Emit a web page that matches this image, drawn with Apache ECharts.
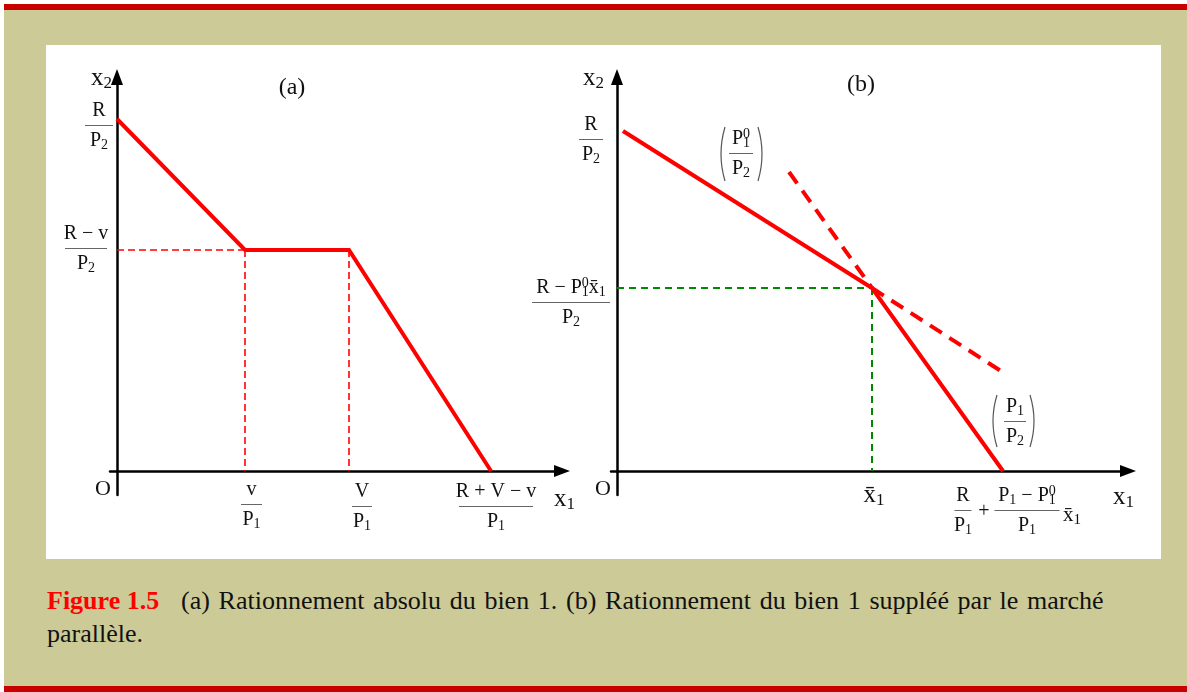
<!DOCTYPE html>
<html>
<head>
<meta charset="utf-8">
<script src="https://cdn.jsdelivr.net/npm/echarts@6/dist/echarts.min.js"></script>
<style>
  html, body { margin: 0; padding: 0; background: #fff; width: 1187px; height: 692px; overflow: hidden; }
  #frame { position: absolute; left: 4px; top: 4px; width: 1183px; height: 676px; background: #CCCA96;
           border-top: 6px solid #C80000; border-bottom: 6px solid #C80000; }
  #panel { position: absolute; left: 46px; top: 45px; width: 1115px; height: 514px; background: #fff; }
  #chart { position: absolute; left: 0; top: 0; width: 1187px; height: 692px; }
  .cap { position: absolute; font-family: "Liberation Serif", "Times New Roman", serif; font-size: 26px;
         line-height: 26px; color: #111; white-space: pre; }
  .wide { word-spacing: 2.2px; }
  .fig { color: #FF0000; font-weight: bold; }
</style>
</head>
<body>
<div id="frame"></div>
<div id="panel"></div>
<div class="cap fig" style="left:47px; top:588px;">Figure 1.5</div>
<div class="cap wide" style="left:181px; top:588px;">(a) Rationnement absolu du bien 1. (b) Rationnement du bien 1 suppléé par le marché</div>
<div class="cap" style="left:47px; top:621px;">parallèle.</div>
<div id="chart"></div>
<script>
const SERIF = '"Liberation Serif", "Times New Roman", serif';

// Panel (a): budget set when good 1 is rationed (corner points)
const budgetAX = [0, 12.8, 23.2, 37.4];
const budgetAY = [35.2, 22.1, 22.1, 0];

// Panel (b): budget line with the parallel market (corner points)
const budgetBX = [0.6, 25.5, 38.6];
const budgetBY = [34.0, 18.3, 0];
// continuations of both price lines past the kink
const steepExtX = [17.2, 25.5];
const steepExtY = [29.9, 18.3];
const flatExtX = [25.5, 38.7];
const flatExtY = [18.3, 9.8];

// Tick labels as [numerator, denominator] (rich markup: t text, s subscript, q stacked superscript)
const ticksAY = [['{t|R}', '{t|P}{s|2}'], ['{t|R − v}', '{t|P}{s|2}']];
const ticksAX = [['{t|v}', '{t|P}{s|1}'], ['{t|V}', '{t|P}{s|1}'], ['{t|R + V − v}', '{t|P}{s|1}']];
const ticksBY = [['{t|R}', '{t|P}{s|2}'], ['{t|R − P}{s|1}{q|0}{t|x\u0304}{s|1}', '{t|P}{s|2}']];
const tickBXbar = '{X|x\u0304}{XS|1}';
const tickBXend = [['{t|R}', '{t|P}{s|1}'], '{t|+}', ['{t|P}{s|1}{t| − P}{s|1}{q|0}', '{t|P}{s|1}'], '{m|x\u0304}{ms|1}'];
// Slopes of the two price lines
const slopeLabels = [['{t|P}{s|1}{q|0}', '{t|P}{s|2}'], ['{t|P}{s|1}', '{t|P}{s|2}']];
const panelTitles = ['(a)', '(b)'];
const axisNamesX = ['{X|x}{XS|1}', '{X|x}{XS|1}'];
const axisNamesY = ['{X|x}{XS|2}', '{X|x}{XS|2}'];
const originLabel = 'O';

const RICH = {
  t:  { fontSize: 20, fontFamily: SERIF, lineHeight: 23, fill: '#111' },
  s:  { fontSize: 14, fontFamily: SERIF, lineHeight: 14, verticalAlign: 'bottom', fill: '#111' },
  q:  { fontSize: 14, fontFamily: SERIF, lineHeight: 14, verticalAlign: 'top', padding: [0, 0, 0, -7], fill: '#111' },
  X:  { fontSize: 25, fontFamily: SERIF, lineHeight: 28, fill: '#111' },
  XS: { fontSize: 17, fontFamily: SERIF, lineHeight: 17, verticalAlign: 'bottom', fill: '#111' },
  m:  { fontSize: 21, fontFamily: SERIF, lineHeight: 24, fill: '#111' },
  ms: { fontSize: 15, fontFamily: SERIF, lineHeight: 15, verticalAlign: 'bottom', fill: '#111' },
  h:  { fontSize: 24, fontFamily: SERIF, lineHeight: 26, fill: '#111' },
  o:  { fontSize: 22, fontFamily: SERIF, lineHeight: 24, fill: '#111' }
};

const chart = echarts.init(document.getElementById('chart'), null, { renderer: 'canvas' });

const axisLine = {
  show: true, onZero: true,
  symbol: ['none', 'triangle'], symbolSize: [12, 16],
  lineStyle: { color: '#000', width: 2.5 }
};
const bare = { axisTick: { show: false }, axisLabel: { show: false }, splitLine: { show: false } };
const axis = (g, min, max) => Object.assign({ type: 'value', gridIndex: g, min, max, axisLine }, bare);

const pts = (xs, ys) => xs.map((x, i) => [x, ys[i]]);
function seg(g, data, color, width, dash) {
  return {
    type: 'line', xAxisIndex: g, yAxisIndex: g, data, symbol: 'none', silent: true, z: 3,
    lineStyle: { color, width, type: dash || 'solid', cap: 'butt', join: 'miter' }
  };
}
const RED = '#FF0000', GREEN = '#008A00';

chart.setOption({
  animation: false,
  backgroundColor: 'transparent',
  grid: [
    { left: 110, top: 77, width: 452, height: 418 },
    { left: 611, top: 77, width: 517, height: 418 }
  ],
  xAxis: [axis(0, -0.7, 44.5), axis(1, -0.6, 51.1)],
  yAxis: [axis(0, -2.4, 39.4), axis(1, -2.4, 39.4)],
  series: [
    // (a) guides from the rationed segment to both axes
    seg(0, [[0, budgetAY[1]], [budgetAX[1], budgetAY[1]]], RED, 1.6, [7, 4]),
    seg(0, [[budgetAX[1], budgetAY[1]], [budgetAX[1], 0]], RED, 1.6, [7, 4]),
    seg(0, [[budgetAX[2], budgetAY[2]], [budgetAX[2], 0]], RED, 1.6, [7, 4]),
    seg(0, pts(budgetAX, budgetAY), RED, 4),
    // (b) guides to the kink, price-line continuations, budget line
    seg(1, [[0, budgetBY[1]], [budgetBX[1], budgetBY[1]]], GREEN, 2, [7, 5]),
    seg(1, [[budgetBX[1], budgetBY[1]], [budgetBX[1], 0]], GREEN, 2, [7, 5]),
    seg(1, pts(steepExtX, steepExtY), RED, 4, [14, 9]),
    seg(1, pts(flatExtX, flatExtY), RED, 4, [14, 9]),
    seg(1, pts(budgetBX, budgetBY), RED, 4)
  ]
});

// ---- annotations ----
function textEl(x, y, text, align, vAlign) {
  return {
    type: 'text', x, y, z: 20, silent: true,
    style: { text, rich: RICH, fill: '#111', font: '20px ' + SERIF,
             align, verticalAlign: vAlign, textAlign: align, textVerticalAlign: vAlign }
  };
}
function fracEl(cx, barY, num, den, barW) {
  return {
    type: 'group', x: cx, y: barY, silent: true,
    children: [
      textEl(0, -3, num, 'center', 'bottom'),
      { type: 'line', z: 20, shape: { x1: -barW / 2, y1: 0, x2: barW / 2, y2: 0 },
        style: { stroke: '#666', lineWidth: 1 } },
      textEl(0, 4, den, 'center', 'top')
    ]
  };
}
// tall parenthesis drawn as a curve; dir -1 = opening, +1 = closing
function parenEl(xm, yTop, yBot, dir) {
  const b = 4;
  return {
    type: 'bezierCurve', z: 20, silent: true,
    shape: { x1: xm - dir * b, y1: yTop, x2: xm - dir * b, y2: yBot, cpx1: xm + dir * b, cpy1: (yTop + yBot) / 2 },
    style: { stroke: '#555', lineWidth: 1.2, fill: null }
  };
}
const px = (g, x, y) => chart.convertToPixel({ gridIndex: g }, [x, y]);
const snap = v => Math.round(v) + 0.5;
const els = [];

// label offsets (pixels) from each tick position: [dx, dy, bar width]
const layAY = [[-18, 6, 28], [-31, -2, 42]];
const layAX = [[6.5, 33, 21], [13, 35, 20], [5, 35, 74]];
const layBY = [[-26, 8, 24], [-46, 14, 78]];

[budgetAY[0], budgetAY[1]].forEach((v, i) => {
  const p = px(0, 0, v), l = layAY[i];
  els.push(fracEl(p[0] + l[0], snap(p[1] + l[1]), ticksAY[i][0], ticksAY[i][1], l[2]));
});
[budgetAX[1], budgetAX[2], budgetAX[3]].forEach((v, i) => {
  const p = px(0, v, 0), l = layAX[i];
  els.push(fracEl(p[0] + l[0], snap(p[1] + l[1]), ticksAX[i][0], ticksAX[i][1], l[2]));
});
[budgetBY[0], budgetBY[1]].forEach((v, i) => {
  const p = px(1, 0, v), l = layBY[i];
  els.push(fracEl(p[0] + l[0], snap(p[1] + l[1]), ticksBY[i][0], ticksBY[i][1], l[2]));
});
// x-bar under the kink
(function () {
  const p = px(1, budgetBX[1], 0);
  els.push(textEl(p[0] + 2, p[1] + 24, tickBXbar, 'center', 'middle'));
})();
// intercept of the budget line in (b)
(function () {
  const p = px(1, budgetBX[2], 0);
  const y = snap(p[1] + 39);
  els.push(fracEl(p[0] - 40, y, tickBXend[0][0], tickBXend[0][1], 17));
  els.push(textEl(p[0] - 19, y + 1, tickBXend[1], 'center', 'middle'));
  els.push(fracEl(p[0] + 24, y, tickBXend[2][0], tickBXend[2][1], 65));
  els.push(textEl(p[0] + 60, y + 5, tickBXend[3], 'left', 'middle'));
})();

// slope labels in parentheses
[[741, 153.5, 24, 721, 762, 127, 181], [1015, 421.5, 22, 993, 1034, 395, 447]].forEach((l, i) => {
  els.push(fracEl(l[0], l[1], slopeLabels[i][0], slopeLabels[i][1], l[2]));
  els.push(parenEl(l[3], l[5], l[6], -1));
  els.push(parenEl(l[4], l[5], l[6], 1));
});

// panel titles, axis names and origins
els.push(textEl(292, 88, '{h|' + panelTitles[0] + '}', 'center', 'middle'));
els.push(textEl(861, 85, '{h|' + panelTitles[1] + '}', 'center', 'middle'));
[0, 1].forEach(g => {
  const o = px(g, 0, 0);
  els.push(textEl(o[0] - 14, o[1] + 18, '{o|' + originLabel + '}', 'center', 'middle'));
});
els.push(textEl(112, 78, axisNamesY[0], 'right', 'middle'));
els.push(textEl(604, 78, axisNamesY[1], 'right', 'middle'));
els.push(textEl(554, 499, axisNamesX[0], 'left', 'middle'));
els.push(textEl(1113, 497, axisNamesX[1], 'left', 'middle'));

chart.setOption({ graphic: { elements: els } });
</script>
</body>
</html>
